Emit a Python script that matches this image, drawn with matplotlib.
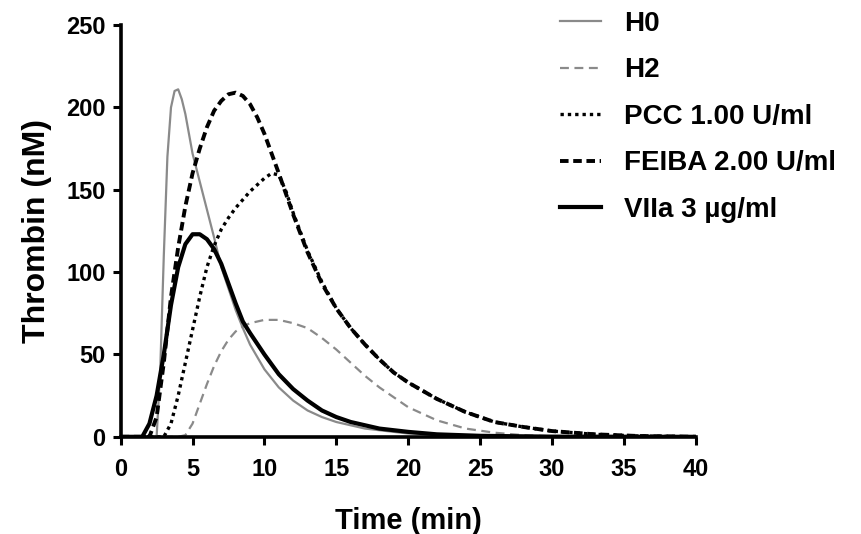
import numpy as np
import matplotlib
matplotlib.use("Agg")
import matplotlib.pyplot as plt

plt.rcParams['font.family'] = ['Liberation Sans', 'DejaVu Sans']
plt.rcParams['font.weight'] = 'bold'

# thrombin generation curves, time in min, thrombin in nM
t_h0 = [0, 2.5, 2.75, 3.0, 3.25, 3.5, 3.75, 4.0, 4.25, 4.5, 5.0, 5.5, 6.0, 6.5, 7.0, 7.5,
        8.0, 8.5, 9.0, 10, 11, 12, 13, 14, 15, 17, 20, 25, 30, 40]
y_h0 = [0, 0, 40, 110, 170, 200, 210, 211, 205, 196, 172, 155, 138, 121, 103, 90,
        77, 66, 56, 41, 30, 22, 16, 12, 9, 5, 2, 0.5, 0, 0]

t_h2 = [0, 4.0, 4.5, 5.0, 5.5, 6.0, 6.5, 7.0, 7.5, 8.0, 8.5, 9.0, 10, 11, 12, 13, 14,
        15, 16, 17, 18, 19, 20, 21, 22, 24, 26, 28, 30, 35, 40]
y_h2 = [0, 0, 1, 8, 20, 32, 43, 52, 59, 64, 67, 69, 71, 71, 69, 66, 60,
        53, 45, 37, 30, 24, 18, 14, 10, 5, 2.5, 1, 0.3, 0, 0]

t_pcc = [0, 3.0, 3.5, 4.0, 4.5, 5.0, 5.5, 6.0, 6.5, 7.0, 7.5, 8.0, 8.5, 9.0, 9.5, 10,
         10.5, 11, 11.5, 12, 13, 14, 15, 16, 17, 18, 19, 20, 22, 24, 26, 28, 30, 33, 36, 40]
y_pcc = [0, 0, 8, 25, 45, 65, 85, 103, 116, 126, 133, 139, 144, 149, 153, 157,
         160, 159, 149, 136, 113, 94, 78, 66, 56, 47, 39, 33, 23, 15, 9, 6, 3.5, 1.5, 0.5, 0]

t_feiba = [0, 2.0, 2.5, 3.0, 3.5, 4.0, 4.5, 5.0, 5.5, 6.0, 6.5, 7.0, 7.5, 8.0, 8.5, 9.0,
           9.5, 10, 10.5, 11, 12, 13, 14, 15, 16, 17, 18, 19, 20, 22, 24, 26, 28, 30, 33, 36, 40]
y_feiba = [0, 0, 12, 45, 85, 115, 140, 160, 175, 188, 198, 204, 208, 209, 207, 202,
           194, 184, 172, 160, 135, 112, 93, 78, 66, 56, 47, 39, 33, 23, 15, 9, 6, 3.5, 1.5, 0.5, 0]

t_villa = [0, 1.5, 2.0, 2.5, 3.0, 3.5, 4.0, 4.5, 5.0, 5.5, 6.0, 6.5, 7.0, 7.5, 8.0, 8.5,
           9.0, 10, 11, 12, 13, 14, 15, 16, 18, 20, 22, 25, 30, 40]
y_villa = [0, 0, 8, 25, 50, 80, 103, 117, 123, 123, 120, 114, 105, 93, 81, 70,
           63, 50, 38, 29, 22, 16, 12, 9, 5, 3, 1.5, 0.6, 0.1, 0]

labels = ['H0', 'H2', 'PCC 1.00 U/ml', 'FEIBA 2.00 U/ml', 'VIIa 3 µg/ml']

fig = plt.figure(figsize=(8.62, 5.34), dpi=100)
ax = fig.add_axes([0.140, 0.182, 0.667, 0.771])

ax.plot(t_h0, y_h0, color='#8a8a8a', lw=1.6, ls='-', label=labels[0])
ax.plot(t_h2, y_h2, color='#8a8a8a', lw=1.6, ls=(0, (4, 2.5)), label=labels[1])
ax.plot(t_pcc, y_pcc, color='black', lw=2.4, ls=(0, (1, 1.2)), label=labels[2])
ax.plot(t_feiba, y_feiba, color='black', lw=2.8, ls=(0, (2.2, 1.2)), label=labels[3])
ax.plot(t_villa, y_villa, color='black', lw=3.0, ls='-', label=labels[4])

ax.set_xlim(0, 40)
ax.set_ylim(0, 250)
ax.set_xticks(np.arange(0, 41, 5))
ax.set_yticks(np.arange(0, 251, 50))
for s in ['top', 'right']:
    ax.spines[s].set_visible(False)
for s in ['left', 'bottom']:
    ax.spines[s].set_linewidth(2.6)
ax.tick_params(width=2.2, length=6, labelsize=17, pad=5)
ax.tick_params(axis='x', pad=9)
for lab in ax.get_xticklabels() + ax.get_yticklabels():
    lab.set_fontweight('bold')

ax.set_xlabel('Time (min)', fontsize=21, fontweight='bold', labelpad=19)
ax.set_ylabel('Thrombin (nM)', fontsize=23, fontweight='bold', labelpad=10)

leg = fig.legend(loc='upper left', bbox_to_anchor=(0.65, 0.98), frameon=False,
                 borderpad=0, borderaxespad=0, handlelength=1.45, handletextpad=0.85,
                 labelspacing=0.74, prop={'weight': 'bold', 'size': 20})

fig.savefig('out.png', dpi=100)
